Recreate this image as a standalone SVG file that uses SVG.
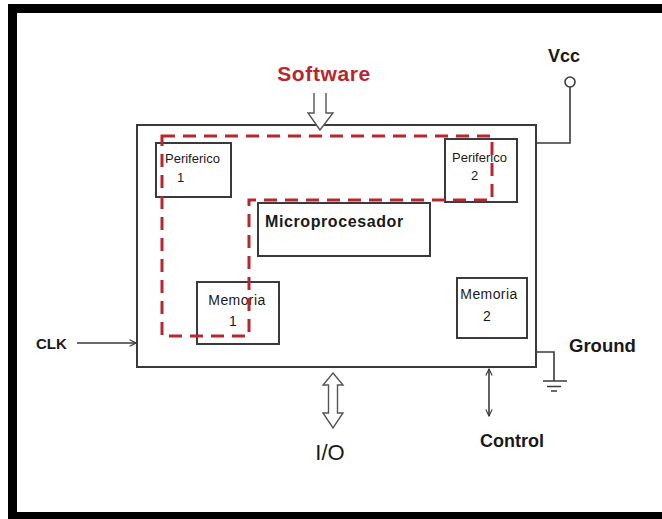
<svg xmlns="http://www.w3.org/2000/svg" width="662" height="519" viewBox="0 0 662 519">
  <defs>
    <style>
      .frame { fill: none; stroke: #000; stroke-width: 9; }
      .box { fill: #fff; stroke: #3a3a3a; stroke-width: 2; }
      .wire { fill: none; stroke: #3a3a3a; stroke-width: 1.6; }
      .hollow { fill: #fff; stroke: #555; stroke-width: 1.4; stroke-linejoin: miter; }
      .dash { fill: none; stroke: #b8262e; stroke-width: 3; stroke-dasharray: 13 8; }
      .t { font-family: "Liberation Sans", Arial, sans-serif; fill: #1a1a1a; }
      .b { font-weight: bold; }
      .small { font-size: 13px; }
      .mem { font-size: 14px; letter-spacing: 0.4px; }
      .red { fill: #b8262e; }
    </style>
    <marker id="chev" viewBox="0 0 10 10" refX="9" refY="5" markerWidth="8" markerHeight="8" markerUnits="userSpaceOnUse" orient="auto-start-reverse">
      <path d="M1,1 L9,5 L1,9" fill="none" stroke="#3a3a3a" stroke-width="1.4"/>
    </marker>
  </defs>

  <rect x="0" y="0" width="662" height="519" fill="#fff"/>
  <path class="frame" d="M12.5,521 V8.5 H662 M8,516.5 H662"/>

  <g id="chip">
    <rect class="box" x="137" y="125" width="399" height="242"/>
  </g>

  <g id="periferico1">
    <rect class="box" x="156" y="143" width="75" height="54"/>
    <text class="t small" x="165" y="163">Periferico</text>
    <text class="t small" x="177" y="182">1</text>
  </g>

  <g id="periferico2">
    <rect class="box" x="445" y="139" width="72" height="63"/>
    <text class="t small" x="452" y="162">Periferico</text>
    <text class="t small" x="471" y="180">2</text>
  </g>

  <g id="microprocesador">
    <rect class="box" x="258" y="203" width="172" height="53"/>
    <text class="t b" x="265" y="227" font-size="16" letter-spacing="0.6">Microprocesador</text>
  </g>

  <g id="memoria1">
    <rect class="box" x="197" y="282" width="82" height="62"/>
    <text class="t mem" x="237" y="305" text-anchor="middle">Memoria</text>
    <text class="t mem" x="233" y="326" text-anchor="middle">1</text>
  </g>

  <g id="memoria2">
    <rect class="box" x="457" y="278" width="70" height="60"/>
    <text class="t mem" x="489" y="299" text-anchor="middle">Memoria</text>
    <text class="t mem" x="487" y="321" text-anchor="middle">2</text>
  </g>

  <g id="software-path">
    <path class="dash" d="M162,136 H492 V200 H249 V336 H162 Z"/>
  </g>

  <g id="software">
    <text class="t b red" x="324" y="81" font-size="21" letter-spacing="0.6" text-anchor="middle">Software</text>
  </g>

  <g id="vcc">
    <text class="t b" x="564" y="62" font-size="18" text-anchor="middle">Vcc</text>
    <circle cx="570" cy="82" r="5" fill="#fff" stroke="#3a3a3a" stroke-width="1.6"/>
  </g>

  <g id="ground">
    <text class="t b" x="569" y="352" font-size="18.5">Ground</text>
    <path class="wire" d="M543,381 H567 M547,386.5 H561 M551,391 H557"/>
  </g>

  <g id="clk">
    <text class="t b" x="36" y="349" font-size="15">CLK</text>
  </g>

  <g id="io">
    <text class="t" x="330" y="460" font-size="22" text-anchor="middle">I/O</text>
  </g>

  <g id="control">
    <text class="t b" x="480" y="447" font-size="18">Control</text>
  </g>

  <g id="connectors">
    <path class="hollow" d="M314,93 V113 H308 L320,130 L333,113 H326 V93"/>
    <path class="wire" d="M570,87 V143 H536"/>
    <path class="wire" d="M536,352 H554 V381"/>
    <path class="wire" d="M77,343 H136" marker-end="url(#chev)"/>
    <path class="hollow" d="M333,373 L343,385 H337.5 V413 H343 L333,428 L323,413 H328.5 V385 H323 Z"/>
    <path class="wire" d="M489,369 V416" marker-start="url(#chev)" marker-end="url(#chev)"/>
  </g>
</svg>
